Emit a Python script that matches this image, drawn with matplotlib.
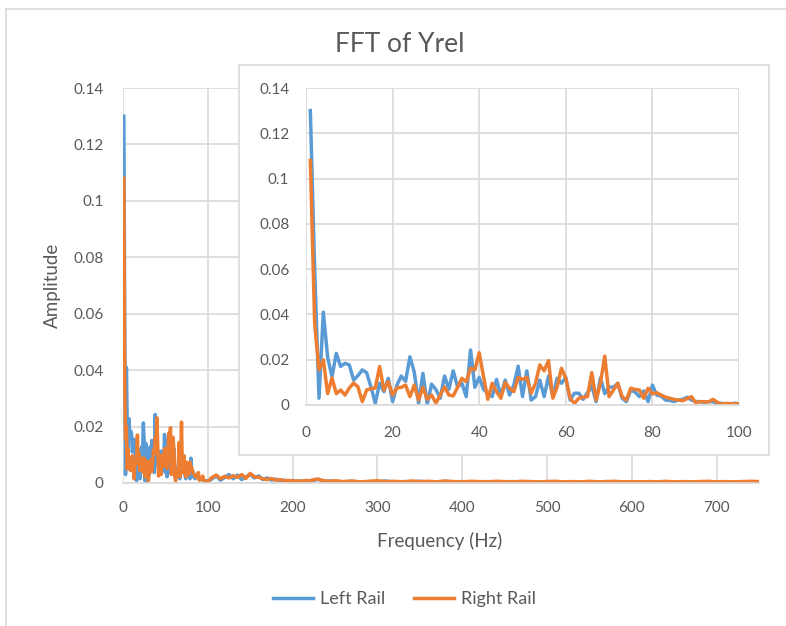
import numpy as np
import matplotlib.pyplot as plt
from matplotlib.patches import Rectangle
from matplotlib.lines import Line2D

plt.rcParams['font.family'] = ['Lato', 'DejaVu Sans']

# frequency bins (Hz): 1 Hz steps up to 100, coarser read-out of the flat tail
freq_lo = np.arange(1, 101)
freq_tail = np.concatenate([np.arange(105, 251, 5), np.arange(260, 751, 10)])

left_lo = [0.130, 0.060, 0.003, 0.041, 0.021, 0.0125, 0.0228, 0.017, 0.0184, 0.0177,
           0.011, 0.013, 0.0155, 0.0143, 0.008, 0.0008, 0.0096, 0.0059, 0.0118, 0.0015,
           0.0088, 0.0128, 0.0105, 0.0213, 0.0145, 0.0008, 0.014, 0.0002, 0.0092, 0.0068,
           0.003, 0.0128, 0.007, 0.0151, 0.008, 0.0096, 0.0037, 0.0243, 0.0078, 0.0122,
           0.0069, 0.0052, 0.0037, 0.0113, 0.0040, 0.011, 0.0044, 0.0088, 0.0172, 0.0037,
           0.0151, 0.0022, 0.0037, 0.011, 0.0037, 0.0128, 0.0037, 0.0118, 0.0096, 0.0122,
           0.0022, 0.0052, 0.0052, 0.0025, 0.0054, 0.0084, 0.0015, 0.0120, 0.0050, 0.008,
           0.0078, 0.0096, 0.003, 0.0015, 0.0066, 0.0057, 0.0037, 0.0062, 0.0015, 0.0088,
           0.0044, 0.004, 0.0022, 0.0020, 0.0015, 0.0022, 0.0025, 0.0034, 0.0022, 0.0015,
           0.0015, 0.0012, 0.0015, 0.0015, 0.0004, 0.0008, 0.0, 0.0005, 0.0008, 0.0005]

right_lo = [0.108, 0.036, 0.0155, 0.020, 0.005, 0.012, 0.005, 0.0066, 0.0044, 0.0075,
            0.0097, 0.008, 0.0015, 0.0066, 0.0072, 0.0075, 0.017, 0.0066, 0.0103, 0.0044,
            0.0075, 0.0078, 0.0088, 0.0037, 0.0088, 0.0022, 0.0078, 0.0025, 0.0044, 0.0008,
            0.0044, 0.008, 0.0044, 0.004, 0.0078, 0.0118, 0.0103, 0.0162, 0.0155, 0.0231,
            0.0125, 0.0025, 0.0096, 0.0059, 0.003, 0.0099, 0.0074, 0.0059, 0.0122, 0.0113,
            0.0122, 0.0052, 0.0096, 0.0177, 0.0151, 0.0196, 0.003, 0.008, 0.0162, 0.0118,
            0.003, 0.0007, 0.003, 0.0034, 0.0037, 0.0143, 0.0022, 0.0096, 0.0216, 0.0037,
            0.0066, 0.0096, 0.0037, 0.0022, 0.0074, 0.0069, 0.0066, 0.003, 0.0074, 0.0049,
            0.0054, 0.0044, 0.0035, 0.003, 0.0025, 0.0022, 0.0019, 0.0028, 0.0037, 0.001,
            0.0015, 0.0014, 0.0014, 0.0025, 0.0012, 0.0004, 0.0007, 0.0006, 0.0004, 0.0005]

left_tail = [0.0015, 0.0025, 0.0010, 0.0020, 0.0030, 0.0015, 0.0028, 0.0012, 0.0022, 0.0030,
             0.0018, 0.0025, 0.0012, 0.0018, 0.0010, 0.0014, 0.0008, 0.0010, 0.0006, 0.0009,
             0.0005, 0.0007, 0.0006, 0.0008, 0.0010, 0.0013, 0.0008, 0.0006, 0.0007, 0.0005,
             0.0004, 0.0006, 0.0003, 0.0005, 0.0004, 0.0007, 0.0003, 0.0005, 0.0004, 0.0006,
             0.0003, 0.0004, 0.0006, 0.0003, 0.0005, 0.0004, 0.0003, 0.0005, 0.0004, 0.0003,
             0.0005, 0.0003, 0.0004, 0.0003, 0.0005, 0.0004, 0.0003, 0.0004, 0.0003, 0.0004,
             0.0003, 0.0005, 0.0003, 0.0004, 0.0003, 0.0004, 0.0003, 0.0002, 0.0004, 0.0003,
             0.0003, 0.0004, 0.0002, 0.0003, 0.0004, 0.0003, 0.0002, 0.0003, 0.0004, 0.0003]

right_tail = [0.0020, 0.0028, 0.0015, 0.0024, 0.0018, 0.0026, 0.0020, 0.0030, 0.0016, 0.0034,
              0.0022, 0.0020, 0.0015, 0.0012, 0.0016, 0.0010, 0.0012, 0.0008, 0.0009, 0.0007,
              0.0008, 0.0006, 0.0009, 0.0007, 0.0012, 0.0014, 0.0009, 0.0007, 0.0006, 0.0008,
              0.0005, 0.0007, 0.0004, 0.0006, 0.0008, 0.0005, 0.0006, 0.0004, 0.0007, 0.0005,
              0.0006, 0.0004, 0.0007, 0.0005, 0.0004, 0.0006, 0.0005, 0.0004, 0.0006, 0.0005,
              0.0004, 0.0006, 0.0005, 0.0004, 0.0005, 0.0006, 0.0004, 0.0005, 0.0004, 0.0006,
              0.0004, 0.0005, 0.0006, 0.0004, 0.0005, 0.0004, 0.0005, 0.0004, 0.0006, 0.0004,
              0.0005, 0.0004, 0.0005, 0.0006, 0.0004, 0.0005, 0.0004, 0.0005, 0.0006, 0.0005]

freq = np.concatenate([freq_lo, freq_tail])
left = np.concatenate([left_lo, left_tail])
right = np.concatenate([right_lo, right_tail])

BLUE = '#5B9BD5'
ORANGE = '#ED7D31'
GRID = '#D9D9D9'
TXT = '#595959'
LW = 2.5

fig = plt.figure(figsize=(7.86, 6.26), dpi=100)

# outer chart border
fig.add_artist(Line2D([6/786, 6/786], [0, 1 - 9/626], color=GRID, lw=1.2))
fig.add_artist(Line2D([6/786, 1], [1 - 9/626, 1 - 9/626], color=GRID, lw=1.2))


def style(ax, xmax, xstep, xpad, ypad):
    ax.set_ylim(0, 0.14)
    ax.set_yticks(np.arange(0, 0.141, 0.02))
    ax.set_yticklabels(['0', '0.02', '0.04', '0.06', '0.08', '0.1', '0.12', '0.14'])
    ax.set_xlim(0, xmax)
    ax.set_xticks(np.arange(0, xmax + 1, xstep))
    ax.grid(True, color=GRID, lw=1.2)
    ax.set_axisbelow(True)
    for s in ['top', 'right', 'left']:
        ax.spines[s].set_visible(False)
    ax.spines['bottom'].set_color(GRID)
    ax.spines['bottom'].set_linewidth(1.2)
    ax.tick_params(axis='both', length=0, labelsize=11, labelcolor=TXT)
    ax.tick_params(axis='x', pad=xpad)
    ax.tick_params(axis='y', pad=ypad)


# main chart
ax = fig.add_axes([123/786, 1 - 483/626, 636/786, 395/626])
ax.plot(freq, left, color=BLUE, lw=LW, label='Left Rail', solid_joinstyle='round')
ax.plot(freq, right, color=ORANGE, lw=LW, label='Right Rail', solid_joinstyle='round')
style(ax, 750, 100, 13, 14)
ax.set_xticks(np.arange(0, 701, 100))
ax.set_xlim(0, 750)
fig.text(52/786, 1 - 285/626, 'Amplitude', fontsize=13.5, color=TXT,
         rotation=90, ha='center', va='center')
fig.text(440/786, 1 - 541/626, 'Frequency (Hz)', fontsize=13.5, color=TXT,
         ha='center', va='center')
fig.text(400/786, 1 - 45/626, 'FFT of Yrel', fontsize=19, color=TXT, ha='center', va='center')

# white box behind the zoomed chart
fig.add_artist(Rectangle((239/786, 1 - 455/626), 530/786, 390/626,
                         transform=fig.transFigure, facecolor='white',
                         edgecolor=GRID, lw=1.2, zorder=2))

ins = fig.add_axes([306/786, 1 - 405/626, 433/786, 317/626], zorder=3)
ins.patch.set_alpha(0)
ins.plot(freq_lo, left_lo, color=BLUE, lw=LW, solid_joinstyle='round')
ins.plot(freq_lo, right_lo, color=ORANGE, lw=LW, solid_joinstyle='round')
style(ins, 100, 20, 15, 12)

leg = fig.legend(loc='center', bbox_to_anchor=(0.515, 1 - 599/626), ncol=2, frameon=False,
                 fontsize=13, handlelength=2.2, columnspacing=1.6, handletextpad=0.4)
for t in leg.get_texts():
    t.set_color(TXT)

fig.savefig('out.png', dpi=100)
